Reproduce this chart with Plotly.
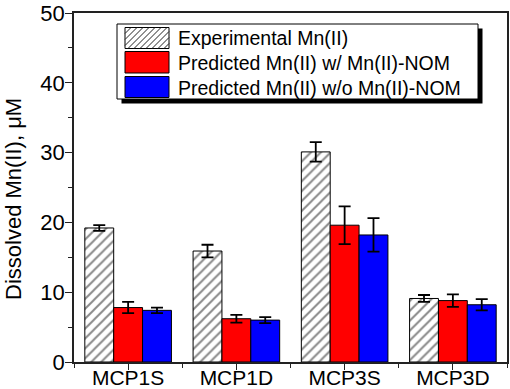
import plotly.graph_objects as go

categories = ["MCP1S", "MCP1D", "MCP3S", "MCP3D"]
series_names = ["Experimental Mn(II)", "Predicted Mn(II) w/ Mn(II)-NOM", "Predicted Mn(II) w/o Mn(II)-NOM"]
experimental = [19.2, 15.9, 30.1, 9.1]
experimental_err = [0.4, 0.9, 1.4, 0.5]
pred_with = [7.8, 6.2, 19.6, 8.8]
pred_with_err = [0.8, 0.55, 2.7, 0.9]
pred_without = [7.4, 6.0, 18.2, 8.2]
pred_without_err = [0.4, 0.43, 2.4, 0.8]
y_ticks = [0, 10, 20, 30, 40, 50]

W, H = 510, 389
L, R, T, B = 74, 3, 13, 27
PW, PH = W - L - R, H - T - B


def px(x):
    return (x - L) / PW


def py(y):
    return (H - B - y) / PH


xpos = list(range(len(categories)))
err_style = dict(type="data", color="black", thickness=1.8, width=6, visible=True)
line_style = dict(color="black", width=1)

fig = go.Figure()
fig.add_trace(go.Bar(
    x=xpos, y=experimental, name=series_names[0], showlegend=False,
    marker=dict(color="white", line=line_style,
                pattern=dict(shape="/", fgcolor="#111111", bgcolor="white", size=7, solidity=0.28)),
    error_y=dict(array=experimental_err, **err_style)))
fig.add_trace(go.Bar(
    x=xpos, y=pred_with, name=series_names[1], showlegend=False,
    marker=dict(color="#ff0000", line=line_style),
    error_y=dict(array=pred_with_err, **err_style)))
fig.add_trace(go.Bar(
    x=xpos, y=pred_without, name=series_names[2], showlegend=False,
    marker=dict(color="#0000ff", line=line_style),
    error_y=dict(array=pred_without_err, **err_style)))

font = "Arial, Liberation Sans, sans-serif"

fig.update_layout(
    width=W, height=H,
    margin=dict(l=L, r=R, t=T, b=B, pad=0, autoexpand=False),
    paper_bgcolor="white", plot_bgcolor="white",
    barmode="group", bargap=0.2, bargroupgap=0,
    font=dict(family=font, color="black"),
    xaxis=dict(range=[-0.5, len(categories) - 0.5], tickmode="array", tickvals=xpos, ticktext=categories,
               automargin=False,
               showgrid=False, zeroline=False, showline=True, linecolor="#222222", linewidth=1.5, mirror=True,
               ticks="outside", ticklen=6, tickwidth=1.2, tickcolor="#222222",
               ticklabelstandoff=-10,
               tickfont=dict(size=21, family=font, color="black"),
               minor=dict(tickvals=[i - 0.5 for i in range(len(categories) + 1)], ticks="outside",
                          ticklen=4, tickwidth=1.2, tickcolor="#222222", showgrid=False)),
    yaxis=dict(range=[0, 50], tickmode="array", tickvals=y_ticks, automargin=False,
               showgrid=False, zeroline=False, showline=True, linecolor="#222222", linewidth=1.5, mirror=True,
               ticks="outside", ticklen=7, tickwidth=1.2, tickcolor="#222222",
               ticklabelstandoff=-4,
               tickfont=dict(size=22, family=font, color="black"),
               minor=dict(dtick=5, tick0=0, ticks="outside", ticklen=4, tickwidth=1.2,
                          tickcolor="#222222", showgrid=False)),
)

shapes = []
annotations = []

# y-axis title
annotations.append(dict(text="Dissolved Mn(II), μM", textangle=-90, xref="paper", yref="paper",
                        x=px(13), y=py(199), xanchor="center", yanchor="middle", showarrow=False,
                        font=dict(size=22, family=font, color="black")))

# legend box with shadow
bx0, by0, bx1, by1 = 117, 24, 478, 99
sh = 4.5
shapes.append(dict(type="rect", xref="paper", yref="paper", x0=px(bx0 + sh), x1=px(bx1 + sh),
                   y0=py(by0 + sh), y1=py(by1 + sh), fillcolor="black", line=dict(width=0), layer="above"))
shapes.append(dict(type="rect", xref="paper", yref="paper", x0=px(bx0), x1=px(bx1),
                   y0=py(by0), y1=py(by1), fillcolor="white", line=dict(color="black", width=1), layer="above"))

sw_x0, sw_x1 = 125, 169
rows = [(27.5, 48.5), (51.5, 73), (76.5, 97.5)]
fills = ["white", "#ff0000", "#0000ff"]
for (y0, y1), fc, name in zip(rows, fills, series_names):
    shapes.append(dict(type="rect", xref="paper", yref="paper", x0=px(sw_x0), x1=px(sw_x1),
                       y0=py(y0), y1=py(y1), fillcolor=fc, line=dict(color="black", width=1), layer="above"))
    annotations.append(dict(text=name, xref="paper", yref="paper", x=px(176), y=py((y0 + y1) / 2 + 0.5),
                            xanchor="left", yanchor="middle", showarrow=False,
                            font=dict(size=19.5, family=font, color="black")))

# hatch lines for experimental swatch
y0, y1 = rows[0]
h = y1 - y0
segs = []
c = sw_x0 - h
step = 6.0
while c < sw_x1:
    xa, ya = c, y1
    xb, yb = c + h, y0
    if xa < sw_x0:
        ya = y1 - (sw_x0 - xa)
        xa = sw_x0
    if xb > sw_x1:
        yb = y0 + (xb - sw_x1)
        xb = sw_x1
    if xb - xa > 0.5:
        segs.append(f"M{px(xa)},{py(ya)} L{px(xb)},{py(yb)}")
    c += step
shapes.append(dict(type="path", xref="paper", yref="paper", path=" ".join(segs),
                   line=dict(color="#222222", width=1), layer="above"))

fig.update_layout(shapes=shapes, annotations=annotations)
fig.write_html("out.html", config={"displayModeBar": False},
               post_script="document.body.style.margin='0';document.body.style.overflow='hidden';")
